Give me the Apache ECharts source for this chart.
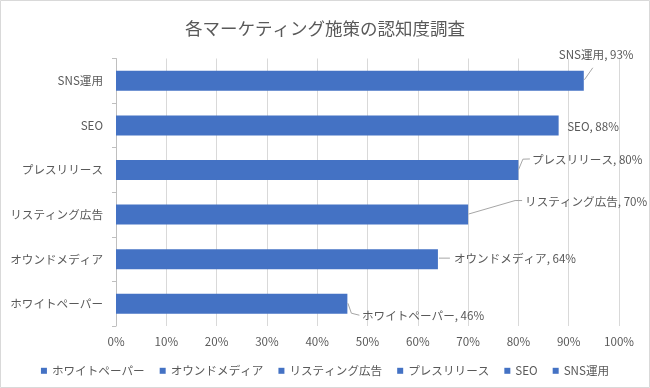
<!DOCTYPE html>
<html>
<head>
<meta charset="utf-8">
<script src="https://cdn.jsdelivr.net/npm/echarts@6/dist/echarts.min.js"></script>
<style>
  html, body { margin: 0; padding: 0; background: #fff; }
  #chart { width: 650px; height: 388px; }
</style>
</head>
<body>
<div id="chart"></div>
<script>
// ---- data ----
const categories = ['ホワイトペーパー', 'オウンドメディア', 'リスティング広告', 'プレスリリース', 'SEO', 'SNS運用'];
const values = [46, 64, 70, 80, 88, 93];
const xTicks = [0, 10, 20, 30, 40, 50, 60, 70, 80, 90, 100];
const titleText = '各マーケティング施策の認知度調査';

// label placement relative to bar end (x) and bar centre (y), per category
const labelOffsets = [
  { dx: 14.6, dy: 12, line: [[0.5, -0.5], [4, 9.5], [12, 11.5]] },
  { dx: 16, dy: -1, line: [[1, -1], [12, -1]] },
  { dx: 57, dy: -12.5, line: [[0.5, -0.5], [47, -14], [54, -14]] },
  { dx: 13.5, dy: -10.5, line: [[0, 0], [4.5, -10.8], [11.5, -11]] },
  { dx: 8.5, dy: 1, line: null },
  { dx: -25, dy: -26, line: [[0.6, -1], [9, -13]] }
];

const FONT = 'Noto Sans CJK JP';
const TXT = '#595959';
const BLUE = '#4472C4';

const chart = echarts.init(document.getElementById('chart'), null, { renderer: 'canvas' });

const series = categories.map((name, i) => ({
  name: name,
  type: 'bar',
  stack: 'all',
  barWidth: 20,
  itemStyle: { color: BLUE },
  data: categories.map((c, j) => (j === i ? values[j] : null)),
  label: {
    show: true,
    formatter: '{a}, {c}%',
    fontFamily: FONT,
    fontSize: 11.6,
    color: TXT
  },
  labelLayout: function (p) {
    const o = labelOffsets[p.dataIndex];
    const ex = p.rect.x + p.rect.width;
    const cy = p.rect.y + p.rect.height / 2;
    return { x: ex + o.dx, y: cy + o.dy, align: 'left', verticalAlign: 'middle' };
  }
}));

const borderRect = {
  id: 'border',
  type: 'rect',
  shape: { x: 0.5, y: 0.5, width: 649, height: 387 },
  style: { fill: 'none', stroke: '#d9d9d9', lineWidth: 1 },
  silent: true
};

chart.setOption({
  backgroundColor: '#fff',
  animation: false,
  title: {
    text: titleText,
    left: 'center',
    top: 15,
    textStyle: { fontFamily: FONT, fontSize: 17.5, fontWeight: 'normal', color: TXT }
  },
  legend: {
    data: categories,
    left: 'center',
    top: 360,
    icon: 'rect',
    itemWidth: 6,
    itemHeight: 6,
    itemGap: 15,
    textStyle: { fontFamily: FONT, fontSize: 11.6, color: TXT }
  },
  graphic: [borderRect],
  grid: { left: 116, right: 31, top: 58.5, bottom: 62, containLabel: false },
  xAxis: {
    type: 'value',
    min: xTicks[0],
    max: xTicks[xTicks.length - 1],
    interval: xTicks[1] - xTicks[0],
    axisLine: { show: false },
    axisTick: { show: false },
    axisLabel: {
      formatter: '{value}%',
      fontFamily: FONT,
      fontSize: 11.6,
      color: TXT,
      margin: 10
    },
    splitLine: { show: true, lineStyle: { color: '#d9d9d9', width: 1 } }
  },
  yAxis: {
    type: 'category',
    data: categories,
    axisLine: { show: true, lineStyle: { color: '#bfbfbf', width: 1 } },
    axisTick: { show: true, length: 4, lineStyle: { color: '#bfbfbf' } },
    axisLabel: { fontFamily: FONT, fontSize: 11.6, color: TXT, margin: 13 }
  },
  series: series
});

// leader lines, anchored at bar ends computed through the axes
const leaders = [];
categories.forEach((c, i) => {
  const o = labelOffsets[i];
  if (!o.line) return;
  const p = chart.convertToPixel({ gridIndex: 0 }, [values[i], i]);
  leaders.push({
    id: 'leader' + i,
    type: 'polyline',
    shape: { points: o.line.map(pt => [p[0] + pt[0], p[1] + pt[1]]) },
    style: { fill: 'none', stroke: '#a6a6a6', lineWidth: 1 },
    silent: true,
    z: 10
  });
});
chart.setOption({ graphic: [borderRect].concat(leaders) });
</script>
</body>
</html>
